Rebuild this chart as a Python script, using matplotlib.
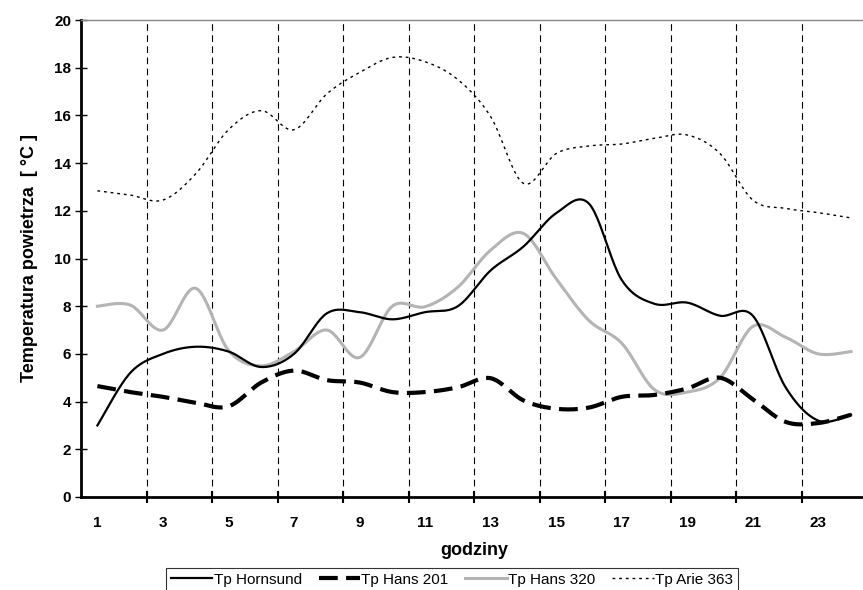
import numpy as np
import matplotlib.pyplot as plt

plt.rcParams['font.family'] = ['Liberation Sans', 'DejaVu Sans']

hours = list(range(1, 25))
hornsund = [3.0, 5.2, 6.0, 6.3, 6.1, 5.45, 6.0, 7.7, 7.75, 7.45, 7.75, 8.0,
            9.5, 10.5, 11.9, 12.3, 9.1, 8.1, 8.15, 7.6, 7.6, 4.6, 3.2, 3.45]
hans201 = [4.65, 4.4, 4.2, 3.95, 3.8, 4.8, 5.3, 4.9, 4.8, 4.4, 4.4, 4.6,
           4.98, 4.05, 3.7, 3.75, 4.2, 4.28, 4.55, 5.0, 4.1, 3.15, 3.1, 3.45]
hans320 = [8.0, 8.05, 7.0, 8.75, 6.15, 5.5, 6.1, 7.0, 5.85, 8.0, 7.98, 8.8,
           10.35, 11.05, 9.15, 7.4, 6.45, 4.5, 4.4, 5.0, 7.15, 6.7, 6.0, 6.1]
arie363 = [12.84, 12.66, 12.45, 13.55, 15.4, 16.2, 15.4, 16.9, 17.8, 18.43, 18.25, 17.5,
           15.95, 13.15, 14.4, 14.72, 14.8, 15.04, 15.18, 14.4, 12.45, 12.1, 11.92, 11.7]

series_names = ['Tp Hornsund', 'Tp Hans 201', 'Tp Hans 320', 'Tp Arie 363']
xtick_labels = [str(h) for h in range(1, 24, 2)]


def smooth(x, y, n=24):
    # Excel-like smoothed line (Bezier through points, Catmull-Rom tangents)
    p = np.column_stack([x, y]).astype(float)
    p = np.vstack([p[0], p, p[-1]])
    t = np.linspace(0, 1, n)[:, None]
    out = []
    for i in range(1, len(p) - 2):
        p0, p1 = p[i], p[i + 1]
        b1 = p0 + (p[i + 1] - p[i - 1]) / 6
        b2 = p1 - (p[i + 2] - p[i]) / 6
        seg = ((1 - t) ** 3) * p0 + 3 * ((1 - t) ** 2) * t * b1 + 3 * (1 - t) * t ** 2 * b2 + t ** 3 * p1
        out.append(seg if i == 1 else seg[1:])
    out = np.vstack(out)
    return out[:, 0], out[:, 1]


fig = plt.figure(figsize=(8.63, 5.9), dpi=100)
ax = fig.add_axes([81 / 863, 93 / 590, 786.5 / 863, 477 / 590])

for xv in np.arange(2.5, 23, 2):
    ax.axvline(xv, color='black', lw=0.8, dashes=(6, 4), zorder=1)

x, y = smooth(hours, hornsund)
ax.plot(x, y, color='black', lw=1.6, label=series_names[0], zorder=4)
x, y = smooth(hours, hans201)
ax.plot(x, y, color='black', lw=3, linestyle=(0, (4.5, 2.0)), label=series_names[1], zorder=3)
x, y = smooth(hours, hans320)
ax.plot(x, y, color='#b4b4b4', lw=2.2, label=series_names[2], zorder=2)
x, y = smooth(hours, arie363)
ax.plot(x, y, color='black', lw=1.0, linestyle=(0, (2, 2.8)), label=series_names[3], zorder=3)

ax.set_xlim(0.5, 24.5)
ax.set_ylim(0, 20)
ax.set_yticks(range(0, 21, 2))
ax.set_xticks(np.arange(2.5, 24, 2))
ax.set_xticklabels([])
ax.set_xticks(range(1, 24, 2), minor=True)
ax.set_xticklabels(xtick_labels, minor=True)
ax.tick_params(axis='x', which='major', direction='inout', length=8, width=1.5)
ax.tick_params(axis='x', which='minor', length=0, pad=14, labelsize=11)
ax.tick_params(axis='y', direction='inout', length=8, width=1, labelsize=11, pad=3)
for lab in ax.get_xticklabels(minor=True) + ax.get_yticklabels():
    lab.set_fontweight('bold')

ax.spines['left'].set_linewidth(2)
ax.spines['bottom'].set_linewidth(2)
ax.spines['top'].set_color('#888888')
ax.spines['top'].set_linewidth(1)
ax.spines['right'].set_visible(False)

ax.set_xlabel('godziny', fontsize=13, fontweight='bold', labelpad=8)
ax.set_ylabel('Temperatura powietrza  [ °C ]', fontsize=13, fontweight='bold', labelpad=12)

leg = fig.legend(loc='upper center', bbox_to_anchor=(452 / 863, 22 / 590), ncol=4,
                 fontsize=11, frameon=True, fancybox=False, handlelength=2.7,
                 handletextpad=0.1, columnspacing=1.1, borderpad=0.3, borderaxespad=0)
leg.get_frame().set_edgecolor('black')
leg.get_frame().set_linewidth(0.8)

fig.savefig('out.png', dpi=100)
